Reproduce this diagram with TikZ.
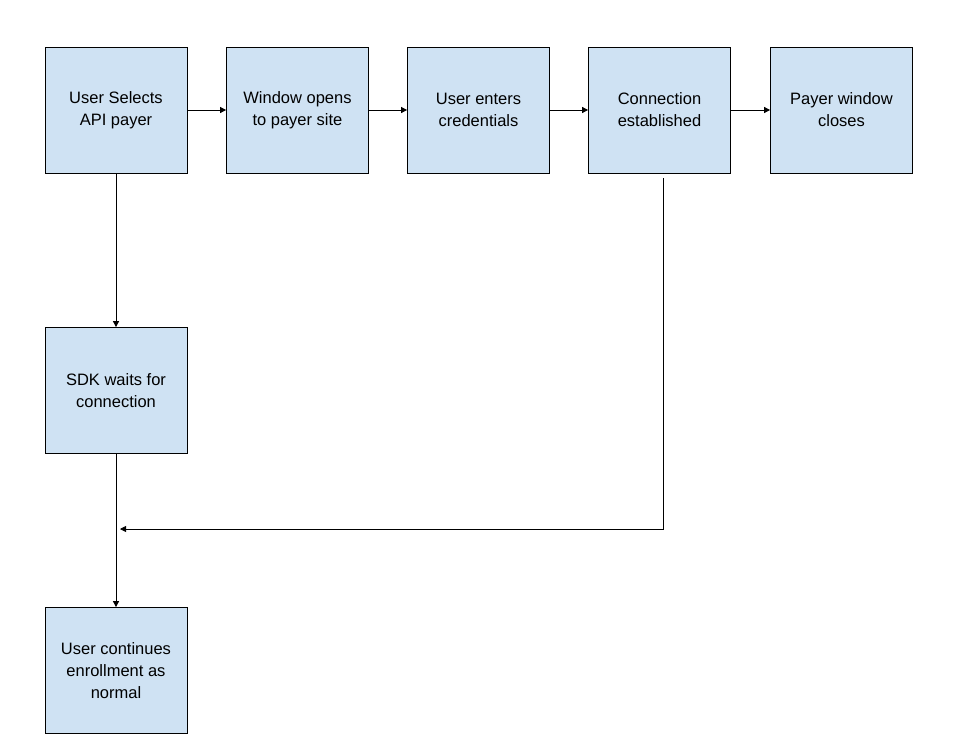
\documentclass[tikz,border=0pt]{standalone}
\usepackage{fontspec}
\setmainfont{Liberation Sans}
\usetikzlibrary{arrows.meta}
\definecolor{color_step_fill}{HTML}{CFE2F3}

\begin{document}
\begin{tikzpicture}[x=1pt,y=-1pt,
    stepbox/.style={draw=black, line width=0.8pt, fill=color_step_fill, minimum width=142pt, minimum height=126pt, inner sep=0pt, align=center, font=\fontsize{16.5}{22}\selectfont},
    flow/.style={-{Triangle[length=6pt,width=6pt]}, line width=0.8pt}]
            \useasboundingbox[fill=white] (0,0) rectangle (958,750);
            % top row
            \node[stepbox] (select) at (116,110) {User Selects\\API payer};
            \node[stepbox] (window) at (297.5,110) {Window opens\\to payer site};
            \node[stepbox] (creds) at (478.5,110) {User enters\\credentials};
            \node[stepbox] (conn) at (659.5,110) {Connection\\established};
            \node[stepbox] (closes) at (841.5,110) {Payer window\\closes};
            % left column
            \node[stepbox] (sdk) at (116,390.5) {SDK waits for\\connection};
            \node[stepbox] (enroll) at (116,670.5) {User continues\\enrollment as\\normal};
            % connectors
            \draw[flow] (select) -- (window);
            \draw[flow] (window) -- (creds);
            \draw[flow] (creds) -- (conn);
            \draw[flow] (conn) -- (closes);
            \draw[flow] (select) -- (sdk);
            \draw[flow] (sdk) -- (enroll);
            % return line
            \coordinate (connfoot) at (663,178);
            \coordinate (merge) at (120,529);
            \draw[flow] (connfoot) |- (merge);
\end{tikzpicture}
\end{document}
